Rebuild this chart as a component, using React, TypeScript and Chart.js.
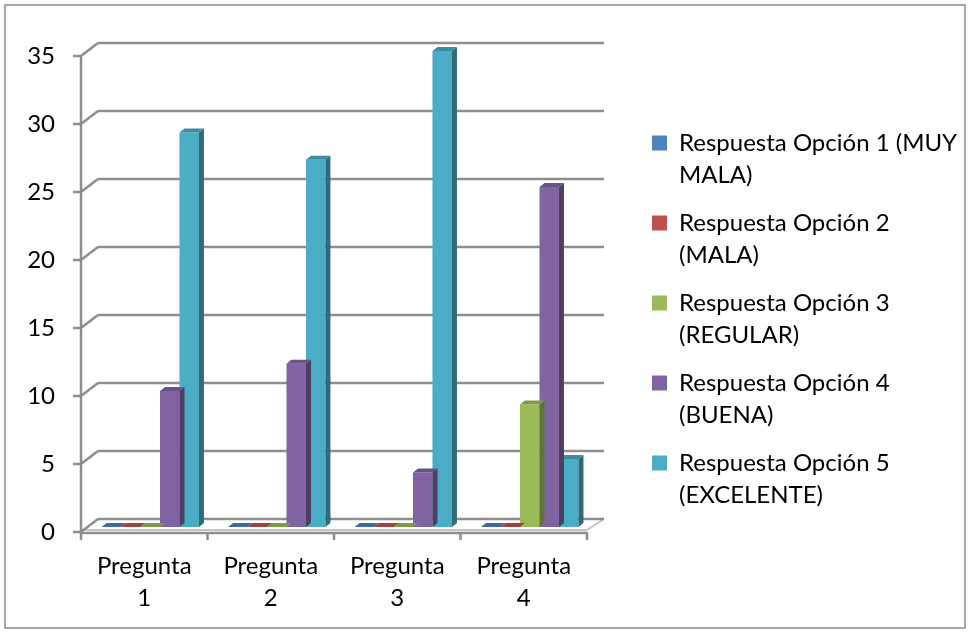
import React, { useEffect, useRef } from 'react';
import { Chart, registerables } from 'chart.js';

Chart.register(...registerables);

// ---------- data ----------
const categories: string[][] = [
  ['Pregunta', '1'],
  ['Pregunta', '2'],
  ['Pregunta', '3'],
  ['Pregunta', '4'],
];
const seriesNames = [
  'Respuesta Opción 1 (MUY MALA)',
  'Respuesta Opción 2 (MALA)',
  'Respuesta Opción 3 (REGULAR)',
  'Respuesta Opción 4 (BUENA)',
  'Respuesta Opción 5 (EXCELENTE)',
];
const legendLines: string[][] = [
  ['Respuesta Opción 1 (MUY', 'MALA)'],
  ['Respuesta Opción 2', '(MALA)'],
  ['Respuesta Opción 3', '(REGULAR)'],
  ['Respuesta Opción 4', '(BUENA)'],
  ['Respuesta Opción 5', '(EXCELENTE)'],
];
const opcion1 = [0, 0, 0, 0];
const opcion2 = [0, 0, 0, 0];
const opcion3 = [0, 0, 0, 9];
const opcion4 = [10, 12, 4, 25];
const opcion5 = [29, 27, 35, 5];
const yTicks = [0, 5, 10, 15, 20, 25, 30, 35];

const colors = ['#4F81BD', '#C0504D', '#9BBB59', '#8064A2', '#4BACC6'];

// ---------- geometry (3D look) ----------
const FRONT = { dx: -6, dy: 5 };
const BACK = { dx: 11, dy: -8 };
const DEPTH = { dx: 5, dy: -4 };
const FONT = 'Lato, "Open Sans", sans-serif';
const FS = 24;

function shade(hex: string, f: number): string {
  const n = parseInt(hex.slice(1), 16);
  const r = Math.round(((n >> 16) & 255) * f);
  const g = Math.round(((n >> 8) & 255) * f);
  const b = Math.round((n & 255) * f);
  return `rgb(${r},${g},${b})`;
}

const line = (ctx: CanvasRenderingContext2D, x1: number, y1: number, x2: number, y2: number) => {
  ctx.beginPath();
  ctx.moveTo(x1, y1);
  ctx.lineTo(x2, y2);
  ctx.stroke();
};

const threeD = {
  id: 'threeD',
  beforeLayout(chart: any) {
    const lg = chart.legend;
    if (lg && !lg.__patched) {
      const orig = lg.fit.bind(lg);
      lg.fit = function () {
        orig();
        this.width = 333;
      };
      lg.__patched = true;
    }
  },
  beforeDraw(chart: any) {
    const { ctx, width, height } = chart;
    ctx.save();
    ctx.fillStyle = '#ffffff';
    ctx.fillRect(0, 0, width, height);
    ctx.strokeStyle = '#8a8a8a';
    ctx.lineWidth = 1.5;
    ctx.strokeRect(5, 5, 960, 623);
    ctx.restore();
  },
  beforeDatasetsDraw(chart: any) {
    const { ctx, chartArea: a, scales } = chart;
    const y = scales.y;
    const x = scales.x;
    ctx.save();
    ctx.lineCap = 'butt';
    const by = y.getPixelForValue(0);
    // floor
    ctx.strokeStyle = '#c4c4c4';
    ctx.lineWidth = 2;
    ctx.beginPath();
    ctx.moveTo(a.left + FRONT.dx, by + FRONT.dy - 2);
    ctx.lineTo(a.right + FRONT.dx, by + FRONT.dy - 2);
    ctx.lineTo(a.right + BACK.dx, by + BACK.dy);
    ctx.stroke();
    // back wall gridlines + connectors + ticks
    ctx.strokeStyle = '#8e8e8e';
    ctx.lineWidth = 2.5;
    for (const v of yTicks) {
      const py = y.getPixelForValue(v);
      line(ctx, a.left + BACK.dx, py + BACK.dy, a.right + BACK.dx, py + BACK.dy);
      line(ctx, a.left + FRONT.dx, py + FRONT.dy, a.left + BACK.dx, py + BACK.dy);
      line(ctx, a.left + FRONT.dx - 8, py + FRONT.dy, a.left + FRONT.dx, py + FRONT.dy);
    }
    // front vertical axis
    line(
      ctx,
      a.left + FRONT.dx,
      y.getPixelForValue(yTicks[yTicks.length - 1]) + FRONT.dy,
      a.left + FRONT.dx,
      by + FRONT.dy
    );
    // front horizontal axis
    line(ctx, a.left + FRONT.dx, by + FRONT.dy + 1, a.right + FRONT.dx, by + FRONT.dy + 1);
    for (let i = 0; i <= categories.length; i++) {
      const px = x.getPixelForValue(i - 0.5) + FRONT.dx;
      line(ctx, px, by + FRONT.dy, px, by + FRONT.dy + 8);
    }
    ctx.restore();
  },
  afterDatasetDraw(chart: any, args: any) {
    const { ctx } = chart;
    const meta = args.meta;
    const base = colors[args.index];
    ctx.save();
    for (const el of meta.data) {
      const { x, y, base: b, width } = el.getProps(['x', 'y', 'base', 'width'], true);
      const l = x - width / 2;
      const r = x + width / 2;
      // side face
      ctx.fillStyle = shade(base, 0.62);
      ctx.beginPath();
      ctx.moveTo(r, y);
      ctx.lineTo(r + DEPTH.dx, y + DEPTH.dy);
      ctx.lineTo(r + DEPTH.dx, b + DEPTH.dy);
      ctx.lineTo(r, b);
      ctx.closePath();
      ctx.fill();
      // top face
      ctx.fillStyle = shade(base, 0.82);
      ctx.beginPath();
      ctx.moveTo(l, y);
      ctx.lineTo(l + DEPTH.dx, y + DEPTH.dy);
      ctx.lineTo(r + DEPTH.dx, y + DEPTH.dy);
      ctx.lineTo(r, y);
      ctx.closePath();
      ctx.fill();
    }
    ctx.restore();
  },
};

export default function App() {
  const ref = useRef<HTMLCanvasElement | null>(null);

  useEffect(() => {
    if (!ref.current) return;
    const values = [opcion1, opcion2, opcion3, opcion4, opcion5];
    const chart = new Chart(ref.current, {
      type: 'bar',
      data: {
        labels: categories,
        datasets: values.map((d, i) => ({
          label: seriesNames[i],
          data: d,
          backgroundColor: colors[i],
          borderWidth: 0,
          barPercentage: 1,
          categoryPercentage: 0.77,
        })),
      },
      options: {
        animation: false,
        responsive: false,
        maintainAspectRatio: false,
        layout: { padding: { top: 51, bottom: 0, left: 0, right: 0 } },
        plugins: {
          tooltip: { enabled: false },
          legend: {
            position: 'right',
            align: 'start',
            title: {
              display: true,
              text: '',
              color: '#000000',
              font: { size: 10, lineHeight: 1 },
              padding: { top: 54, bottom: 0 },
            },
            labels: {
              boxWidth: 15,
              boxHeight: 15,
              padding: 16,
              color: '#000000',
              font: { family: FONT, size: FS, lineHeight: 32 / FS },
              generateLabels: (c: any) =>
                c.data.datasets.map((ds: any, i: number) => ({
                  text: legendLines[i],
                  fillStyle: ds.backgroundColor,
                  strokeStyle: ds.backgroundColor,
                  fontColor: '#000000',
                  lineWidth: 0,
                  hidden: false,
                  datasetIndex: i,
                })),
            },
          },
        },
        scales: {
          x: {
            grid: { display: false, drawTicks: false },
            border: { display: false },
            ticks: {
              color: '#000000',
              font: { family: FONT, size: FS, lineHeight: 32 / FS },
              padding: 23,
              labelOffset: FRONT.dx,
              maxRotation: 0,
              autoSkip: false,
            },
            afterFit: (s: any) => {
              s.height = 105;
            },
          },
          y: {
            min: 0,
            max: 35,
            grid: { display: false, drawTicks: false },
            border: { display: false },
            ticks: {
              stepSize: 5,
              color: '#000000',
              font: { family: FONT, size: FS },
              padding: 32,
              labelOffset: FRONT.dy,
            },
            afterFit: (s: any) => {
              s.width = 87;
            },
          },
          y2: {
            position: 'right',
            display: true,
            grid: { display: false, drawTicks: false },
            border: { display: false },
            ticks: { display: false },
            afterFit: (s: any) => {
              s.width = 43;
            },
          },
        },
      },
      plugins: [threeD],
    });
    return () => chart.destroy();
  }, []);

  return (
    <div style={{ position: 'fixed', left: 0, top: 0, width: 969, height: 632, background: '#fff' }}>
      <canvas ref={ref} width={969} height={632} style={{ display: 'block' }} />
    </div>
  );
}
